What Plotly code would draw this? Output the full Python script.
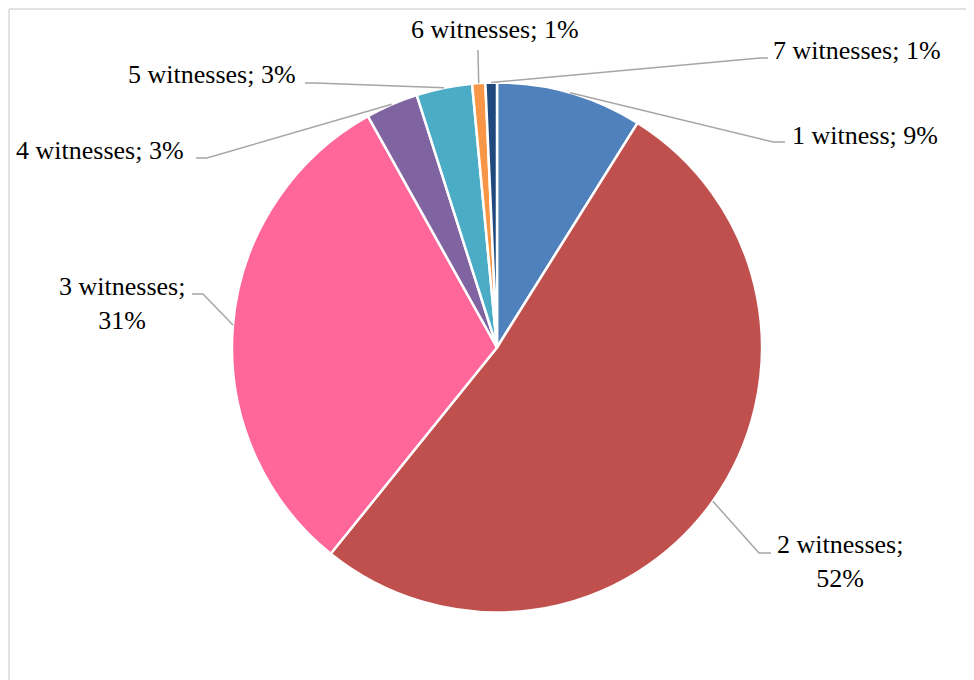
import math
import plotly.graph_objects as go

# ---- data ----
labels = ["1 witness", "2 witnesses", "3 witnesses", "4 witnesses",
          "5 witnesses", "6 witnesses", "7 witnesses"]
values = [8.9, 51.9, 31.1, 3.2, 3.4, 0.8, 0.7]
colors = ["#4F81BD", "#C0504D", "#FF6699", "#8064A2", "#4BACC6", "#F79646", "#1F497D"]

# ---- layout constants (page pixels) ----
W, H = 974, 680
OFF = 8  # page body margin
CX, CY, R = 497, 347.5, 265

# label placement: (knee x, knee y, end x, end y, text x, text y, xanchor, line break)
placement = [
    (773, 142, 785, 142, 790, 135, "left", False),
    (759, 553, 771, 553, 840, 561, "center", True),
    (203, 294, 192, 294, 122, 303, "center", True),
    (207, 158, 196, 158, 186, 150, "right", False),
    (315, 83, 305, 83, 298, 75, "right", False),
    (478, 52, 478, 50, 495, 30, "center", False),
    (760, 58, 768, 58, 771, 50, "left", False),
]

def px(x):
    return (x - OFF) / W

def py(y):
    return 1 - (y - OFF) / H

fig = go.Figure(go.Pie(
    labels=labels,
    values=values,
    sort=False,
    direction="clockwise",
    rotation=0,
    textinfo="none",
    hoverinfo="label+percent",
    marker=dict(colors=colors, line=dict(color="white", width=2.5)),
    domain=dict(x=[px(CX - R), px(CX + R)],
                y=[py(CY + R), py(CY - R)]),
    showlegend=False,
))

total = sum(values)
cum = 0
shapes = []
annotations = []
for lab, v, pl in zip(labels, values, placement):
    mid = (cum + v / 2) / total * 2 * math.pi
    cum += v
    rx = CX + R * math.sin(mid)
    ry = CY - R * math.cos(mid)
    kx, ky, ex, ey, tx, ty, xa, brk = pl
    path = f"M {px(rx)},{py(ry)} L {px(kx)},{py(ky)} L {px(ex)},{py(ey)}"
    shapes.append(dict(type="path", xref="paper", yref="paper", path=path,
                       line=dict(color="#A6A6A6", width=1.5)))
    pct = round(v / total * 100)
    txt = f"{lab};<br>{pct}%" if brk else f"{lab}; {pct}%"
    annotations.append(dict(x=px(tx), y=py(ty), xref="paper", yref="paper",
                             text=txt, showarrow=False, xanchor=xa, yanchor="middle",
                             align="center",
                             font=dict(family="Liberation Serif, Times New Roman, serif",
                                       size=26, color="#000000")))

# chart border (left and top visible)
shapes.append(dict(type="line", xref="paper", yref="paper",
                   x0=px(9), y0=py(9), x1=px(9), y1=0,
                   line=dict(color="#D9D9D9", width=1.5)))
shapes.append(dict(type="line", xref="paper", yref="paper",
                   x0=px(9), y0=py(9), x1=1, y1=py(9),
                   line=dict(color="#D9D9D9", width=1.5)))

fig.update_layout(
    width=W, height=H,
    margin=dict(l=0, r=0, t=0, b=0),
    paper_bgcolor="white",
    plot_bgcolor="white",
    shapes=shapes,
    annotations=annotations,
)

fig.write_html("out.html")
